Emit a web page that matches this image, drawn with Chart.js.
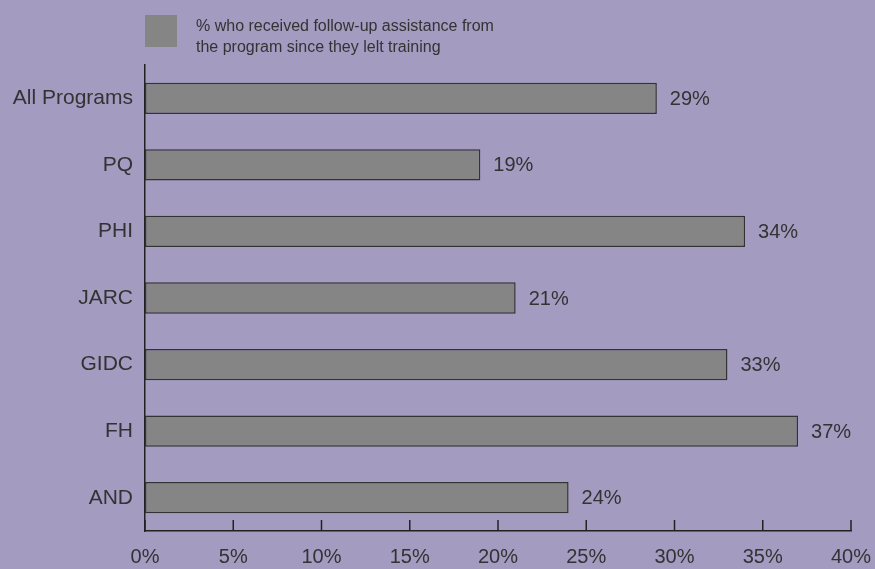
<!DOCTYPE html>
<html lang="en">
<head>
  <meta charset="UTF-8">
  <title>Follow-up assistance</title>
  <script src="https://cdn.jsdelivr.net/npm/chart.js"></script>
  <style>
    body {
      margin: 0;
      background: #a39bc0;
      font-family: "Liberation Sans", Arial, sans-serif;
    }
    .wrap {
      position: relative;
      width: 875px;
      height: 569px;
    }
    .legend {
      position: absolute;
      left: 145px;
      top: 15px;
      display: flex;
      gap: 19px;
      color: #333;
      font-size: 16px;
      line-height: 21px;
    }
    .legend .box {
      width: 32px;
      height: 32px;
      background: #858585;
    }
  </style>
</head>
<body>
  <div class="wrap">
    <canvas id="barChart" width="875" height="569"></canvas>
    <div class="legend">
      <div class="box"></div>
      <div>% who received follow-up assistance from<br>the program since they lelt training</div>
    </div>
  </div>

  <script>
    const programs = ["All Programs", "PQ", "PHI", "JARC", "GIDC", "FH", "AND"];
    const followUp = [29, 19, 34, 21, 33, 37, 24];
    const xTicks = [0, 5, 10, 15, 20, 25, 30, 35, 40];

    const fontFamily = '"Liberation Sans", Arial, sans-serif';

    // small tick marks pointing up from the x axis, plus value labels
    const extras = {
      id: 'extras',
      afterDatasetsDraw(chart) {
        const ctx = chart.ctx;
        const x = chart.scales.x;
        const bottom = chart.chartArea.bottom;
        ctx.save();
        ctx.strokeStyle = '#222';
        ctx.lineWidth = 1.5;
        xTicks.forEach(v => {
          const px = x.getPixelForValue(v);
          ctx.beginPath();
          ctx.moveTo(px, bottom);
          ctx.lineTo(px, bottom - 11);
          ctx.stroke();
        });
        ctx.fillStyle = '#333';
        ctx.font = '20px ' + fontFamily;
        ctx.textBaseline = 'middle';
        chart.getDatasetMeta(0).data.forEach((bar, i) => {
          ctx.fillText(followUp[i] + '%', bar.x + 13, bar.y + 1);
        });
        ctx.restore();
      }
    };

    new Chart(document.getElementById('barChart'), {
      type: 'bar',
      data: {
        labels: programs,
        datasets: [{
          data: followUp,
          backgroundColor: '#858585',
          borderColor: '#333',
          borderWidth: 1.5,
          borderSkipped: false,
          barPercentage: 0.47,
          categoryPercentage: 1
        }]
      },
      options: {
        indexAxis: 'y',
        responsive: false,
        animation: false,
        layout: { padding: { top: 65, right: 24, left: 0, bottom: 0 } },
        plugins: {
          legend: { display: false },
          tooltip: { enabled: false }
        },
        scales: {
          x: {
            min: 0,
            max: 40,
            afterBuildTicks: scale => { scale.ticks = xTicks.map(v => ({ value: v })); },
            afterFit: scale => {
              scale.height = 38;
              scale.paddingLeft = 0;
              scale.paddingRight = 0;
            },
            grid: { display: false, drawTicks: false },
            border: { color: '#222', width: 1.5 },
            ticks: {
              padding: 14,
              color: '#333',
              font: { family: fontFamily, size: 20 },
              callback: v => v + '%'
            }
          },
          y: {
            afterFit: scale => { scale.width = 145; },
            grid: { display: false, drawTicks: false },
            border: { color: '#222', width: 1.5 },
            ticks: {
              padding: 12,
              color: '#333',
              font: { family: fontFamily, size: 21 }
            }
          }
        }
      },
      plugins: [extras]
    });
  </script>
</body>
</html>
